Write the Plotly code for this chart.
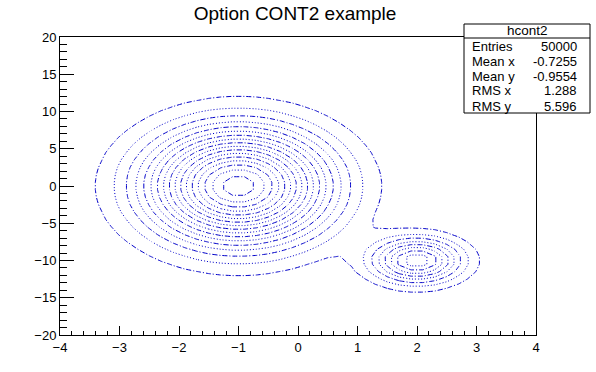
import numpy as np
import plotly.graph_objects as go

# ---- data ----
# histogram hcont2: 40 x-bins on [-4,4], 40 y-bins on [-20,20]
x_bin_centers = [round(-3.9 + 0.2 * i, 2) for i in range(40)]
y_bin_centers = [-19.5 + j for j in range(40)]

# main blob: marginal bin counts (25000 entries)
blob1_x_counts = [30, 52, 88, 142, 220, 328, 470, 648, 857, 1089,
                  1330, 1561, 1760, 1907, 1985, 1985, 1907, 1760, 1561, 1330,
                  1089, 857, 648, 470, 328, 220, 142, 88, 52, 30,
                  16, 9, 4, 2, 1, 0, 0, 0, 0, 0]
blob1_y_counts = [1, 2, 4, 9, 16, 30, 52, 88, 142, 220,
                  328, 470, 648, 857, 1089, 1330, 1561, 1760, 1907, 1985,
                  1985, 1907, 1760, 1561, 1330, 1089, 857, 648, 470, 328,
                  220, 142, 88, 52, 30, 16, 9, 4, 2, 1]
blob1_total = 25000

# small blob: marginal weighted counts (weight 0.1 -> 2500)
blob2_x_counts = [0] * 21 + [1.2, 4.4, 13.6, 35.5, 79, 150, 242, 333, 391,
                             391, 333, 242, 150, 79, 35.5, 13.6, 4.4, 1.2, 0.3]
blob2_y_counts = [0, 0, 0.4, 2.5, 11, 40, 108, 228, 376, 483,
                  483, 376, 228, 108, 40, 11, 2.5, 0.4] + [0] * 22
blob2_total = 2500

stats_title = "hcont2"
stats_labels = ["Entries", "Mean x", "Mean y", "RMS x", "RMS y"]
stats_values = ["50000", "-0.7255", "-0.9554", "1.288", "5.596"]

x_ticks = [-4, -3, -2, -1, 0, 1, 2, 3, 4]
y_ticks = [-20, -15, -10, -5, 0, 5, 10, 15, 20]

# contour levels (ROOT: 20 levels from 0 to max)
level_step = 9
level_max = 171

# ---- build grid ----
z = (np.outer(blob1_y_counts, blob1_x_counts) / blob1_total
     + np.outer(blob2_y_counts, blob2_x_counts) / blob2_total)

LINE_COLOR = "#0000c8"
fig = go.Figure()
# alternate levels: dash-dot and dotted
fig.add_trace(go.Contour(
    x=x_bin_centers, y=y_bin_centers, z=z,
    contours=dict(coloring="none", start=level_step, end=level_max, size=2 * level_step),
    line=dict(color=LINE_COLOR, width=1, dash="5px,2px,1px,2px", smoothing=0),
    showscale=False, hoverinfo="skip"))
fig.add_trace(go.Contour(
    x=x_bin_centers, y=y_bin_centers, z=z,
    contours=dict(coloring="none", start=2 * level_step, end=level_max, size=2 * level_step),
    line=dict(color=LINE_COLOR, width=1, dash="1px,2px", smoothing=0),
    showscale=False, hoverinfo="skip"))

FONT = "Liberation Sans, Arial, Helvetica, sans-serif"
axis_common = dict(showgrid=False, zeroline=False, showline=True, linecolor="black",
                   linewidth=1, mirror=True, ticks="inside", tickcolor="black",
                   tickfont=dict(family=FONT, size=13, color="black"))
fig.update_layout(
    width=596, height=372,
    margin=dict(l=60, r=60, t=37, b=37),
    paper_bgcolor="white", plot_bgcolor="white",
    showlegend=False,
    title=dict(text="Option CONT2 example", x=0.495, xref="container",
               xanchor="center", y=1 - 13 / 372, yanchor="middle",
               font=dict(family=FONT, size=19, color="black")),
    xaxis=dict(range=[-4, 4], tickvals=x_ticks, ticklen=9,
               minor=dict(dtick=0.2, ticklen=4.5, ticks="inside", tickcolor="black"),
               **axis_common),
    yaxis=dict(range=[-20, 20], tickvals=y_ticks, ticklen=14,
               minor=dict(dtick=1, ticklen=7, ticks="inside", tickcolor="black"),
               **axis_common),
)

# stats box (paper coords: plot area x 60..536 px, y 37..335 px)
def px(xp):
    return (xp - 60) / 476

def py(yp):
    return (335 - yp) / 298

fig.add_shape(type="rect", xref="paper", yref="paper", x0=px(464), x1=px(590),
              y0=py(113), y1=py(24), line=dict(color="black", width=1),
              fillcolor="white", layer="above")
fig.add_shape(type="line", xref="paper", yref="paper", x0=px(464), x1=px(590),
              y0=py(38), y1=py(38), line=dict(color="black", width=1), layer="above")
fig.add_annotation(xref="paper", yref="paper", x=px(527), y=py(31), text=stats_title,
                   showarrow=False, xanchor="center", yanchor="middle",
                   font=dict(family=FONT, size=13.5, color="black"))
row_y = [46, 61, 76, 91, 106]
for lab, val, yy in zip(stats_labels, stats_values, row_y):
    fig.add_annotation(xref="paper", yref="paper", x=px(470), y=py(yy), text=lab,
                       showarrow=False, xanchor="left", yanchor="middle",
                       font=dict(family=FONT, size=13, color="black"))
    fig.add_annotation(xref="paper", yref="paper", x=px(579), y=py(yy), text=val,
                       showarrow=False, xanchor="right", yanchor="middle",
                       font=dict(family=FONT, size=13, color="black"))

fig.write_html("out.html", config={"displayModeBar": False},
               post_script="document.body.style.margin='0';")
